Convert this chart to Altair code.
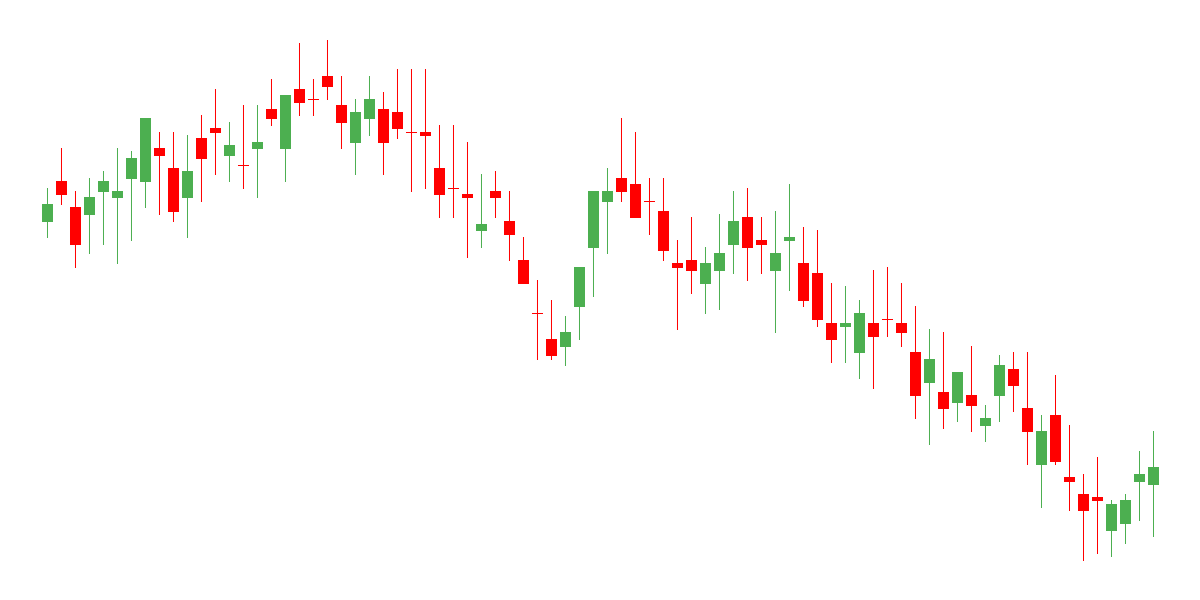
import altair as alt
import pandas as pd

# Prices (arbitrary units, higher = up)
opens = [378, 419, 393, 385, 408, 402, 421, 418, 452, 432,
         402, 462, 472, 444, 434.5, 451, 491, 451, 511, 500.5,
         524, 495, 457, 481, 491, 488, 467.5, 468, 432, 411.5,
         406, 369, 409, 379, 340, 286.5, 261, 253, 293, 352,
         398, 422, 416, 398.5, 389, 337, 340, 316, 329, 355,
         383, 360, 329, 359, 337, 327, 277, 273, 247, 277,
         280.5, 277, 248, 217, 208, 197, 205, 174, 204, 231,
         192, 135, 185, 123, 106, 103, 69, 76, 118, 115]
highs = [412, 452, 409, 422, 429, 452, 449, 482, 468, 468,
         465, 485, 511, 478, 495, 495, 521, 505, 557, 521,
         560, 524, 501, 524, 508, 531, 531, 531, 475, 475,
         458, 426, 429, 409, 363, 320, 300, 284, 333, 409,
         432, 482, 468, 422, 422, 360, 383, 353, 386, 409,
         412, 383, 389, 416, 373, 370, 317, 314, 300, 330,
         333, 317, 294, 271, 268, 228, 254, 195, 245, 248,
         248, 185, 225, 175, 126, 143, 100, 106, 149, 169]
lows = [362, 395, 332, 346, 355, 336, 359, 392, 385, 378,
        362, 398, 425, 418, 411, 402, 474, 418, 484, 484,
        500, 451, 425, 464, 425, 461, 408, 411, 382, 382,
        342, 352, 382, 339, 316, 240, 240, 234, 260, 303,
        346, 398, 382, 365, 339, 270, 306, 286, 290, 326,
        319, 326, 267, 309, 293, 273, 237, 237, 221, 211,
        263, 253, 181, 155, 171, 178, 168, 158, 178, 188,
        135, 92, 135, 89, 39, 46, 43, 56, 79, 63]
closes = [396, 405, 355, 403, 419, 409, 442, 482, 444, 388,
          429, 441, 467, 455, 434.5, 458, 481, 505, 497, 500.5,
          513, 477, 488, 501, 457, 471, 467.5, 464, 405, 411.5,
          402, 376, 402, 365, 316, 286.5, 244, 268, 333, 409,
          409, 408, 382, 398.5, 349, 332, 329, 337, 347, 379,
          352, 355, 347, 363, 299, 280, 260, 277, 287, 263,
          280.5, 267, 204, 241, 191, 228, 194, 182, 235, 214,
          168, 169, 138, 118, 89, 99, 96, 100, 126, 133]

df = pd.DataFrame({
    "idx": list(range(len(opens))),
    "open": opens, "high": highs, "low": lows, "close": closes,
})
df["dir"] = ["up" if c > o else "down" for o, c in zip(opens, closes)]

GREEN = "#4CAF50"
RED = "#FF0000"

xscale = alt.Scale(domain=[-2.8214, 81.75], nice=False, zero=False)
yscale = alt.Scale(domain=[8, 592], nice=False, zero=False)
color = alt.Color("dir:N", scale=alt.Scale(domain=["up", "down"], range=[GREEN, RED]), legend=None)

base = alt.Chart(df)

wicks = base.mark_rule(strokeWidth=1).encode(
    x=alt.X("idx:Q", scale=xscale, axis=None),
    y=alt.Y("low:Q", scale=yscale, axis=None),
    y2="high:Q",
    color=color,
)

bodies = base.transform_filter("datum.open != datum.close").transform_calculate(
    x0="datum.idx - 0.3929", x1="datum.idx + 0.3929"
).mark_rect().encode(
    x=alt.X("x0:Q", scale=xscale, axis=None),
    x2="x1:Q",
    y=alt.Y("open:Q", scale=yscale, axis=None),
    y2="close:Q",
    color=color,
)

dojis = base.transform_filter("datum.open == datum.close").transform_calculate(
    x0="datum.idx - 0.3929", x1="datum.idx + 0.3929"
).mark_rule(strokeWidth=1).encode(
    x=alt.X("x0:Q", scale=xscale, axis=None),
    x2="x1:Q",
    y=alt.Y("open:Q", scale=yscale, axis=None),
    color=color,
)

chart = (wicks + bodies + dojis).properties(
    width=1184, height=584, padding=0, background="white"
).configure_view(strokeWidth=0, stroke="transparent")

chart.save("out.html", embed_options={"renderer": "svg", "actions": False})
